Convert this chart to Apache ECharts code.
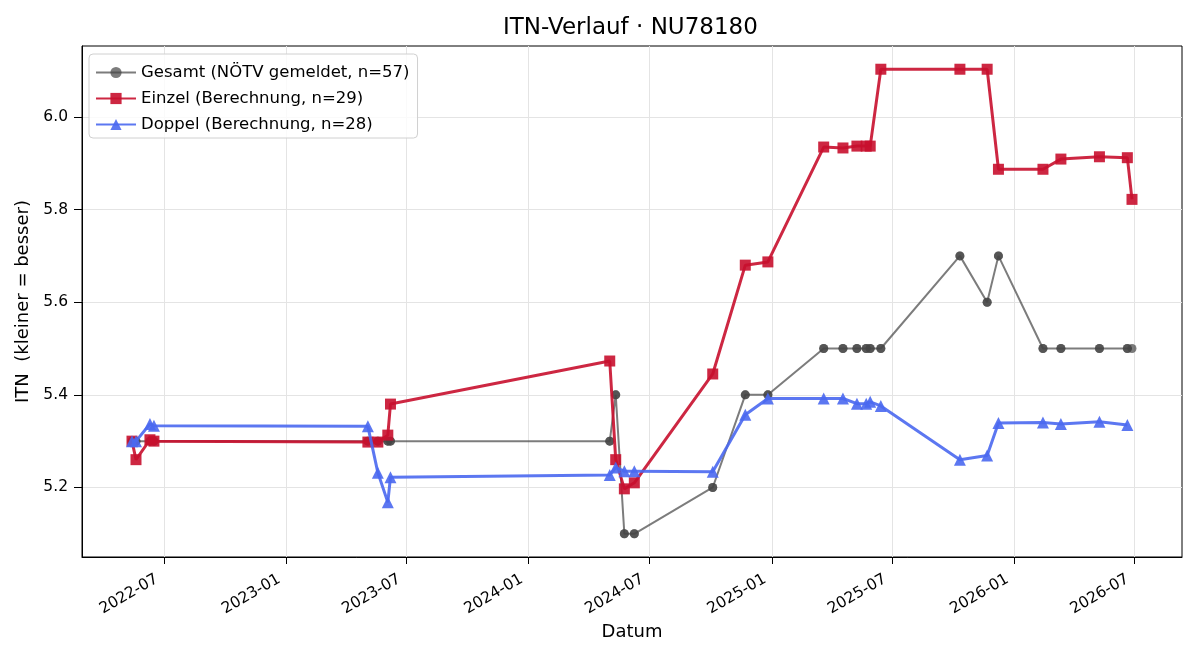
<!DOCTYPE html>
<html>
<head>
<meta charset="utf-8">
<title>ITN-Verlauf</title>
<script src="https://cdn.jsdelivr.net/npm/echarts@6/dist/echarts.min.js"></script>
<style>
  html, body { margin: 0; padding: 0; background: #fff; }
  #chart { width: 1200px; height: 660px; }
</style>
</head>
<body>
<div id="chart"></div>
<script>
const dates = [
  '2022-05-14', '2022-05-20', '2022-06-10', '2022-06-16',
  '2023-05-04', '2023-05-19', '2023-06-03', '2023-06-07',
  '2024-05-02', '2024-05-11', '2024-05-24', '2024-06-08',
  '2024-10-04', '2024-11-22', '2024-12-26',
  '2025-03-20', '2025-04-18', '2025-05-09', '2025-05-23', '2025-05-29', '2025-06-14',
  '2025-10-11', '2025-11-21', '2025-12-08',
  '2026-02-13', '2026-03-12', '2026-05-09', '2026-06-20', '2026-06-27'
]
// Gesamt-ITN laut NÖTV (je Berechnung einmal gemeldet)
const gesamt = [
  5.3, 5.3, 5.3, 5.3,
  5.3, 5.3, 5.3, 5.3,
  5.3, 5.4, 5.1, 5.1,
  5.2, 5.4, 5.4,
  5.5, 5.5, 5.5, 5.5, 5.5, 5.5,
  5.7, 5.6, 5.7,
  5.5, 5.5, 5.5, 5.5, 5.5
]
const einzel = [
  5.300, 5.260, 5.303, 5.300,
  5.298, 5.298, 5.313, 5.380,
  5.473, 5.260, 5.197, 5.210,
  5.445, 5.680, 5.687,
  5.935, 5.933, 5.937, 5.937, 5.937, 6.103,
  6.103, 6.103, 5.887,
  5.887, 5.909, 5.914, 5.912, 5.822
]
const doppel = [
  5.300, 5.300, 5.337, 5.333,
  5.332, 5.232, 5.168, 5.222,
  5.227, 5.243, 5.235, 5.235,
  5.234, 5.357, 5.392,
  5.392, 5.392, 5.381, 5.381, 5.385, 5.376,
  5.260, 5.269, 5.339,
  5.340, 5.337, 5.342, 5.335, null
]
const xTickLabels = ['2022-07', '2023-01', '2023-07', '2024-01', '2024-07', '2025-01', '2025-07', '2026-01', '2026-07']
const yTicks = [5.2, 5.4, 5.6, 5.8, 6.0]

const FONT = 'DejaVu Sans'
const toTs = s => new Date(s + 'T00:00:00Z').getTime()

const times = dates.map(toTs)
const einzelData = times.map((t, i) => [t, einzel[i]])
const doppelData = times.map((t, i) => [t, doppel[i]]).filter(p => p[1] !== null)

// eine Gesamt-Meldung je Einzel- und je Doppel-Berechnung
const gesamtData = []
times.forEach((t, i) => {
  gesamtData.push([t, gesamt[i]])
  if (doppel[i] !== null) gesamtData.push([t, gesamt[i]])
})

// Achsenbereich wie matplotlib: 5 % Rand
const tMin = Math.min(...times), tMax = Math.max(...times)
const allY = gesamt.concat(einzel, doppel.filter(v => v !== null))
const yMin = Math.min(...allY), yMax = Math.max(...allY)
const xPad = (tMax - tMin) * 0.05
const yPad = (yMax - yMin) * 0.05

const xTicks = xTickLabels.map(s => toTs(s + '-01'))

function fmtMonth(v) {
  const d = new Date(v)
  return d.getUTCFullYear() + '-' + String(d.getUTCMonth() + 1).padStart(2, '0')
}

const chart = echarts.init(document.getElementById('chart'), null, { renderer: 'canvas' })

const option = {
  animation: false,
  backgroundColor: '#fff',
  textStyle: { fontFamily: FONT },
  title: {
    text: 'ITN-Verlauf · NU78180',
    // über der Plotfläche zentriert, nicht über dem ganzen Bild
    left: 498,
    top: 12,
    textStyle: { fontFamily: FONT, fontSize: 23, fontWeight: 'normal', color: '#000' }
  },
  legend: {
    orient: 'vertical',
    left: 89,
    top: 54,
    padding: [10, 8, 5, 6],
    itemWidth: 40,
    itemHeight: 14,
    itemGap: 9,
    backgroundColor: 'rgba(255,255,255,0.8)',
    borderColor: '#d0d0d0',
    borderWidth: 1,
    borderRadius: 4,
    textStyle: { fontFamily: FONT, fontSize: 16.5, color: '#000' },
    data: ['Gesamt (NÖTV gemeldet, n=57)', 'Einzel (Berechnung, n=29)', 'Doppel (Berechnung, n=28)']
  },
  grid: {
    left: 82, right: 18, top: 46, bottom: 103,
    show: true, borderColor: '#000', borderWidth: 1,
    containLabel: false
  },
  xAxis: {
    type: 'value',
    min: tMin - xPad,
    max: tMax + xPad,
    name: 'Datum',
    nameLocation: 'middle',
    nameGap: 66,
    nameTextStyle: { fontFamily: FONT, fontSize: 18, color: '#000' },
    axisLine: { show: true, lineStyle: { color: '#000', width: 1 } },
    axisTick: { show: true, customValues: xTicks, length: 7, lineStyle: { color: '#000' } },
    axisLabel: {
      customValues: xTicks,
      rotate: 30,
      margin: 17,
      padding: [0, 8, 0, 0],
      fontFamily: FONT,
      fontSize: 15.5,
      color: '#000',
      formatter: v => fmtMonth(v)
    },
    splitLine: { show: true, lineStyle: { color: '#e4e4e4', width: 1 } }
  },
  yAxis: {
    type: 'value',
    min: yMin - yPad,
    max: yMax + yPad,
    name: 'ITN  (kleiner = besser)',
    nameLocation: 'middle',
    nameGap: 43,
    nameRotate: 90,
    nameTextStyle: { fontFamily: FONT, fontSize: 18, color: '#000' },
    axisLine: { show: true, lineStyle: { color: '#000', width: 1 } },
    axisTick: { show: true, customValues: yTicks, length: 8, lineStyle: { color: '#000' } },
    axisLabel: {
      customValues: yTicks,
      margin: 14,
      fontFamily: FONT,
      fontSize: 15.5,
      color: '#000',
      formatter: v => v.toFixed(1)
    },
    splitLine: { show: true, lineStyle: { color: '#e4e4e4', width: 1 } }
  },
  series: [
    {
      name: 'Gesamt (NÖTV gemeldet, n=57)',
      type: 'line',
      data: gesamtData,
      symbol: 'circle',
      symbolSize: 9,
      showAllSymbol: true,
      color: '#444',
      lineStyle: { color: '#444', width: 2, opacity: 0.7 },
      itemStyle: { color: '#444', opacity: 0.7 },
      z: 2
    },
    {
      name: 'Einzel (Berechnung, n=29)',
      type: 'line',
      data: einzelData,
      symbol: 'rect',
      symbolSize: 11,
      showAllSymbol: true,
      color: '#c8102e',
      lineStyle: { color: '#c8102e', width: 3, opacity: 0.9 },
      itemStyle: { color: '#c8102e', opacity: 0.9 },
      z: 3
    },
    {
      name: 'Doppel (Berechnung, n=28)',
      type: 'line',
      data: doppelData,
      symbol: 'triangle',
      symbolSize: 12,
      showAllSymbol: true,
      color: '#4a68f0',
      lineStyle: { color: '#4a68f0', width: 3, opacity: 0.9 },
      itemStyle: { color: '#4a68f0', opacity: 0.9 },
      z: 4
    }
  ]
}

chart.setOption(option)
</script>
</body>
</html>
